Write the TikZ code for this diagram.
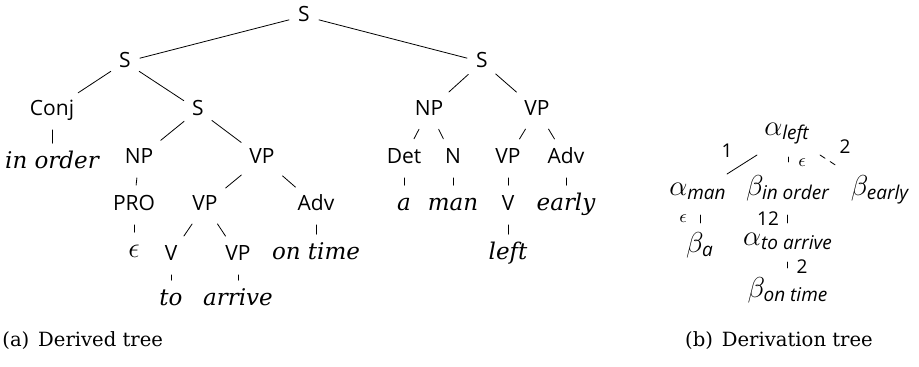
\documentclass[tikz,border=0pt]{standalone}
\usepackage{amsmath}
\usepackage{fontspec}
\setmainfont{DejaVu Serif}
\setsansfont{Open Sans}
\newcommand{\sub}[1]{\mbox{\fontsize{9.5}{11}\selectfont\sffamily\itshape #1}}

\begin{document}
\begin{tikzpicture}[x=0.5pt,y=-0.5pt,line cap=round,
  cat/.style={inner sep=1.5pt,text height=8pt,text depth=2.5pt,font=\sffamily\fontsize{10.5}{12}\selectfont},
  word/.style={inner sep=1.5pt,text height=8pt,text depth=2.5pt,font=\rmfamily\itshape\fontsize{11.5}{13}\selectfont},
  drv/.style={inner sep=0pt,text height=10pt,text depth=4pt,anchor=base,font=\fontsize{14}{16}\selectfont},
  edge/.style={shorten <=3pt,shorten >=3pt},
  elab/.style={font=\sffamily\fontsize{9.5}{11}\selectfont,inner sep=0pt},
  capt/.style={font=\rmfamily\fontsize{9.8}{12}\selectfont,inner sep=0pt}]
\useasboundingbox (0,0) rectangle (919,366);
% derived tree
\node[cat] (s0) at (304,16) {S};
\node[cat] (s1) at (125,62) {S};
\node[cat] (s2) at (482,62) {S};
\node[cat] (conj) at (52,110) {Conj};
\node[cat] (s3) at (198,110) {S};
\node[word] (inorder) at (52,163) {in order};
\node[cat] (np1) at (139,158) {NP};
\node[cat] (vp1) at (262,158) {VP};
\node[cat] (pro) at (134,205) {PRO};
\node[cat] (vp2) at (205,205) {VP};
\node[cat] (adv1) at (316,205) {Adv};
\node[word,font=\fontsize{14}{16}\selectfont] (eps) at (134,252) {$\epsilon$};
\node[cat] (v1) at (171,255) {V};
\node[cat] (vp3) at (238,255) {VP};
\node[word] (ontime) at (316,254) {on time};
\node[word] (to) at (171,300) {to};
\node[word] (arrive) at (238,300) {arrive};
\node[cat] (np2) at (429,110) {NP};
\node[cat] (vp4) at (537,110) {VP};
\node[cat] (det) at (404,158) {Det};
\node[cat] (n) at (453,158) {N};
\node[cat] (vp5) at (508,158) {VP};
\node[cat] (adv2) at (566,158) {Adv};
\node[word] (a) at (404,205) {a};
\node[word] (man) at (453,205) {man};
\node[cat] (v2) at (508,205) {V};
\node[word] (early) at (566,205) {early};
\node[word] (left) at (508,254) {left};
\foreach \p/\c in {s0/s1,s0/s2,s1/conj,s1/s3,conj/inorder,s3/np1,s3/vp1,np1/pro,
  vp1/vp2,vp1/adv1,pro/eps,vp2/v1,vp2/vp3,adv1/ontime,v1/to,vp3/arrive,
  s2/np2,s2/vp4,np2/det,np2/n,vp4/vp5,vp4/adv2,det/a,n/man,vp5/v2,adv2/early,v2/left}
  \draw[edge] (\p) -- (\c);
% derivation tree
\node[drv] (aleft) at (787,135) {$\alpha_{\sub{left}}$};
\node[drv] (aman) at (698,195) {$\alpha_{\sub{man}}$};
\node[drv] (binorder) at (788,195) {$\beta_{\sub{in order}}$};
\node[drv] (bearly) at (880,195) {$\beta_{\sub{early}}$};
\node[drv] (ba) at (700,252) {$\beta_{\sub{a}}$};
\node[drv] (atoarrive) at (788,245) {$\alpha_{\sub{to arrive}}$};
\node[drv] (bontime) at (788,297) {$\beta_{\sub{on time}}$};
\draw ([shift={(-30,20)}]aleft.base) -- node[elab,xshift=-7.5pt,yshift=7pt] {1} ([shift={(29,-21)}]aman.base);
\draw ([shift={(1,22)}]aleft.base) -- node[elab,xshift=7pt,yshift=-1.5pt,font=\fontsize{9}{10}\selectfont] {$\epsilon$} ([shift={(0,-33)}]binorder.base);
\draw[dashed] ([shift={(33,20)}]aleft.base) -- node[elab,xshift=7.5pt,yshift=7.5pt] {2} ([shift={(-40,-27)}]bearly.base);
\draw ([shift={(2,20)}]aman.base) -- node[elab,xshift=-8.5pt,font=\fontsize{9}{10}\selectfont] {$\epsilon$} ([shift={(0,-29)}]ba.base);
\draw ([shift={(-1,20)}]binorder.base) -- node[elab,xshift=-9.5pt] {12} ([shift={(-1,-22)}]atoarrive.base);
\draw ([shift={(-1,17)}]atoarrive.base) -- node[elab,xshift=7.5pt,yshift=-1pt] {2} ([shift={(-1,-29)}]bontime.base);
% captions
\node[capt,anchor=west] (capa) at (2,341) {(a)\hspace{0.45em}Derived tree};
\node[capt] (capb) at (779,341) {(b)\hspace{0.45em}Derivation tree};
\end{tikzpicture}
\end{document}
